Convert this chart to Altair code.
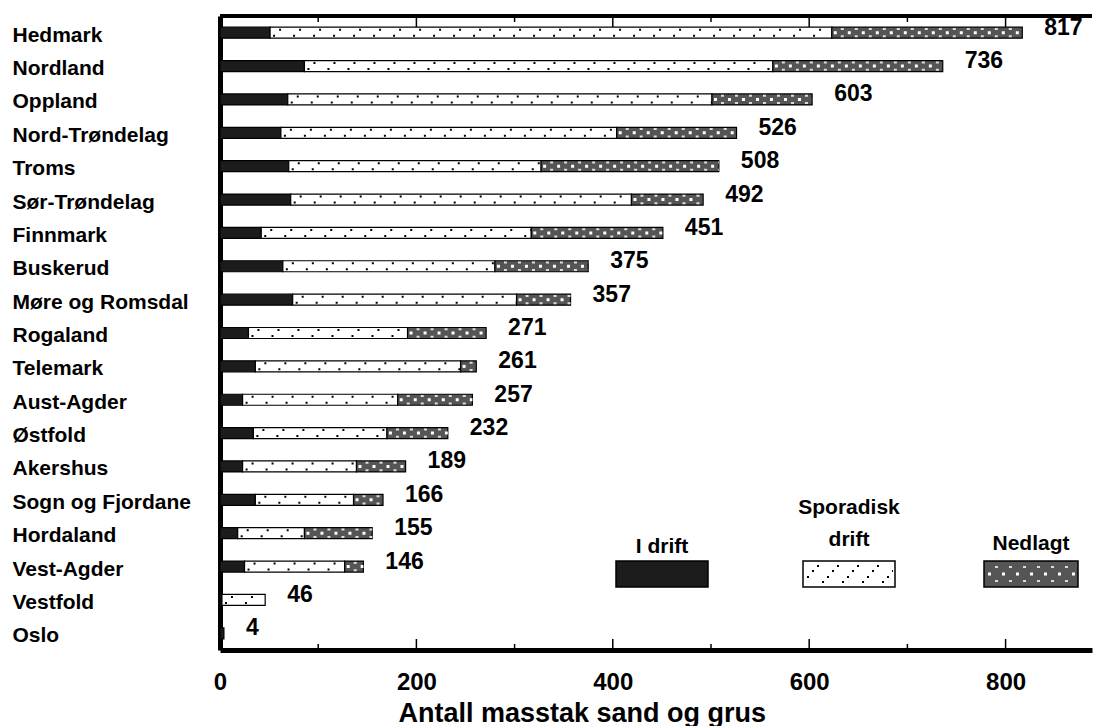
import altair as alt
import pandas as pd

# ---------------- data ----------------
fylker = ["Hedmark", "Nordland", "Oppland", "Nord-Trøndelag", "Troms",
          "Sør-Trøndelag", "Finnmark", "Buskerud", "Møre og Romsdal",
          "Rogaland", "Telemark", "Aust-Agder", "Østfold", "Akershus",
          "Sogn og Fjordane", "Hordaland", "Vest-Agder", "Vestfold", "Oslo"]
i_drift = [51, 86, 69, 62, 70, 72, 42, 64, 74, 29, 36, 23, 34, 23, 36, 18, 25, 2, 4]
sporadisk = [572, 477, 432, 342, 257, 347, 275, 216, 228, 162, 209, 158, 136, 116, 100, 68, 102, 44, 0]
nedlagt = [194, 173, 102, 122, 181, 73, 134, 95, 55, 80, 16, 76, 62, 50, 30, 69, 19, 0, 0]
totals = [817, 736, 603, 526, 508, 492, 451, 375, 357, 271, 261, 257, 232, 189, 166, 155, 146, 46, 4]
status_names = ["I drift", "Sporadisk drift", "Nedlagt"]
x_tick_labels = [0, 200, 400, 600, 800]
major_ticks = [200, 400, 600, 800]
minor_ticks = [100, 300, 500, 700]
x_title = "Antall masstak sand og grus"

# ---------------- styling ----------------
FONT = "Liberation Sans, Arial, sans-serif"
W, H = 872, 634
C_DRIFT, C_SPOR, C_NED = "#1c1c1c", "#ffffff", "#555555"

rows = []
for i, f in enumerate(fylker):
    s0 = 0
    for st, arr in zip(status_names, [i_drift, sporadisk, nedlagt]):
        v = arr[i]
        if v > 0:
            rows.append(dict(fylke=f, status=st, start=s0, end=s0 + v))
        s0 += v
df = pd.DataFrame(rows)
df_tot = pd.DataFrame({"fylke": fylker, "total": totals})
df_spor = df[df.status == "Sporadisk drift"]
df_ned = df[df.status == "Nedlagt"]

xscale = alt.Scale(domain=[0, 888], nice=False, zero=True)
yscale = alt.Scale(domain=fylker, paddingInner=0, paddingOuter=0)


def ypos(band=0.5):
    return alt.Y("fylke:N", sort=fylker, scale=yscale, bandPosition=band, title=None)


def xpos(field):
    return alt.X(field, scale=xscale, title=x_title)


bars = alt.Chart(df).mark_bar(size=11, stroke="black", strokeWidth=1.2).encode(
    x=alt.X("start:Q", scale=xscale,
            axis=alt.Axis(values=x_tick_labels, ticks=False, tickSize=0, grid=False,
                          domainWidth=5, domainColor="black", labelFont=FONT,
                          labelFontSize=24, labelFontWeight="bold", labelColor="black",
                          labelPadding=20, labelBaseline="top", labelFlush=False,
                          titleFont=FONT, titleFontSize=27,
                          titleFontWeight="bold", titleColor="black", titleX=178,
                          titleY=71, titleAlign="left", titleAnchor="start",
                          titleBaseline="alphabetic"),
            title=x_title),
    x2="end:Q",
    y=alt.Y("fylke:N", sort=fylker, scale=yscale, title=None,
            axis=alt.Axis(ticks=False, tickSize=0, domainWidth=5, domainColor="black",
                          labelAlign="left", labelPadding=208, labelOffset=3,
                          labelFont=FONT, labelFontSize=21, labelFontWeight="bold",
                          labelColor="black", labelBaseline="middle", grid=False)),
    color=alt.Color("status:N", scale=alt.Scale(domain=status_names,
                                                 range=[C_DRIFT, C_SPOR, C_NED]),
                    legend=None),
)

# dotted texture of "Sporadisk drift"
dots_top = alt.Chart(df_spor).mark_rule(strokeWidth=2, strokeDash=[2, 18],
                                        strokeDashOffset=-9, color="black").encode(
    x=xpos("start:Q"), x2="end:Q", y=ypos(0.41))
dots_bot = alt.Chart(df_spor).mark_rule(strokeWidth=2, strokeDash=[2, 18],
                                        strokeDashOffset=-3, color="black").encode(
    x=xpos("start:Q"), x2="end:Q", y=ypos(0.59))

# cross-hatch texture of "Nedlagt"
hatch_mid = alt.Chart(df_ned).mark_rule(strokeWidth=3, strokeDash=[3, 11],
                                        strokeDashOffset=-2, color="white").encode(
    x=xpos("start:Q"), x2="end:Q", y=ypos(0.5))
hatch_top = alt.Chart(df_ned).mark_rule(strokeWidth=2, strokeDash=[3, 11],
                                        strokeDashOffset=-9, color="#dddddd").encode(
    x=xpos("start:Q"), x2="end:Q", y=ypos(0.39))
hatch_bot = alt.Chart(df_ned).mark_rule(strokeWidth=2, strokeDash=[3, 11],
                                        strokeDashOffset=-9, color="#dddddd").encode(
    x=xpos("start:Q"), x2="end:Q", y=ypos(0.61))

labels = alt.Chart(df_tot).mark_text(align="left", baseline="middle", dx=22, dy=-5,
                                     font=FONT, fontSize=23, fontWeight="bold",
                                     color="black").encode(
    x=xpos("total:Q"), y=ypos(0.5), text="total:Q")

# frame: top border and inward ticks
one = pd.DataFrame({"k": [0]})
top_border = alt.Chart(one).mark_rule(strokeWidth=4, color="black").encode(
    x=alt.value(0), x2=alt.value(W), y=alt.value(0))
df_major = pd.DataFrame({"v": major_ticks})
df_minor = pd.DataFrame({"v": minor_ticks})
tick_layers = []
for d, ln in [(df_major, 11), (df_minor, 6)]:
    tick_layers.append(alt.Chart(d).mark_rule(strokeWidth=1.5, color="black").encode(
        x=xpos("v:Q"), y=alt.value(0), y2=alt.value(ln)))
    tick_layers.append(alt.Chart(d).mark_rule(strokeWidth=1.5, color="black").encode(
        x=xpos("v:Q"), y=alt.value(H), y2=alt.value(H - ln)))

# hand-made legend (swatches with label above)
legend_layers = []
leg_boxes = [(396, 488), (583, 675), (764, 858)]
leg_y0, leg_y1 = 545, 571
leg_text = [[("I drift", 537)], [("Sporadisk", 498), ("drift", 530)], [("Nedlagt", 534)]]
for (x0, x1), col, texts in zip(leg_boxes, [C_DRIFT, C_SPOR, C_NED], leg_text):
    legend_layers.append(alt.Chart(one).mark_rect(fill=col, stroke="black", strokeWidth=1.5).encode(
        x=alt.value(x0), x2=alt.value(x1), y=alt.value(leg_y0), y2=alt.value(leg_y1)))
    for t, ty in texts:
        legend_layers.append(alt.Chart(one).mark_text(
            text=t, align="center", baseline="alphabetic", font=FONT, fontSize=21,
            fontWeight="bold", color="black").encode(
            x=alt.value((x0 + x1) / 2), y=alt.value(ty)))
# textures inside the legend swatches
x0, x1 = leg_boxes[1]
for k, yy in enumerate([550, 555, 561, 566]):
    legend_layers.append(alt.Chart(one).mark_rule(strokeWidth=2, strokeDash=[2, 18],
                                                  strokeDashOffset=5 * k - 12, color="black").encode(
        x=alt.value(x0 + 2), x2=alt.value(x1 - 2), y=alt.value(yy)))
x0, x1 = leg_boxes[2]
for yy, off, w, c in [(551, -9, 2, "#dddddd"), (558, -2, 3, "white"), (565, -9, 2, "#dddddd")]:
    legend_layers.append(alt.Chart(one).mark_rule(strokeWidth=w, strokeDash=[3, 11],
                                                  strokeDashOffset=off, color=c).encode(
        x=alt.value(x0 + 2), x2=alt.value(x1 - 2), y=alt.value(yy)))

chart = alt.layer(
    bars, dots_top, dots_bot, hatch_mid, hatch_top, hatch_bot, labels,
    top_border, *tick_layers, *legend_layers
).properties(
    width=W, height=H,
    padding={"left": 4, "top": 6, "right": 0, "bottom": 0},
    background="white",
).configure_view(stroke=None)

chart.save("out.html", embed_options={"renderer": "svg", "actions": False})
